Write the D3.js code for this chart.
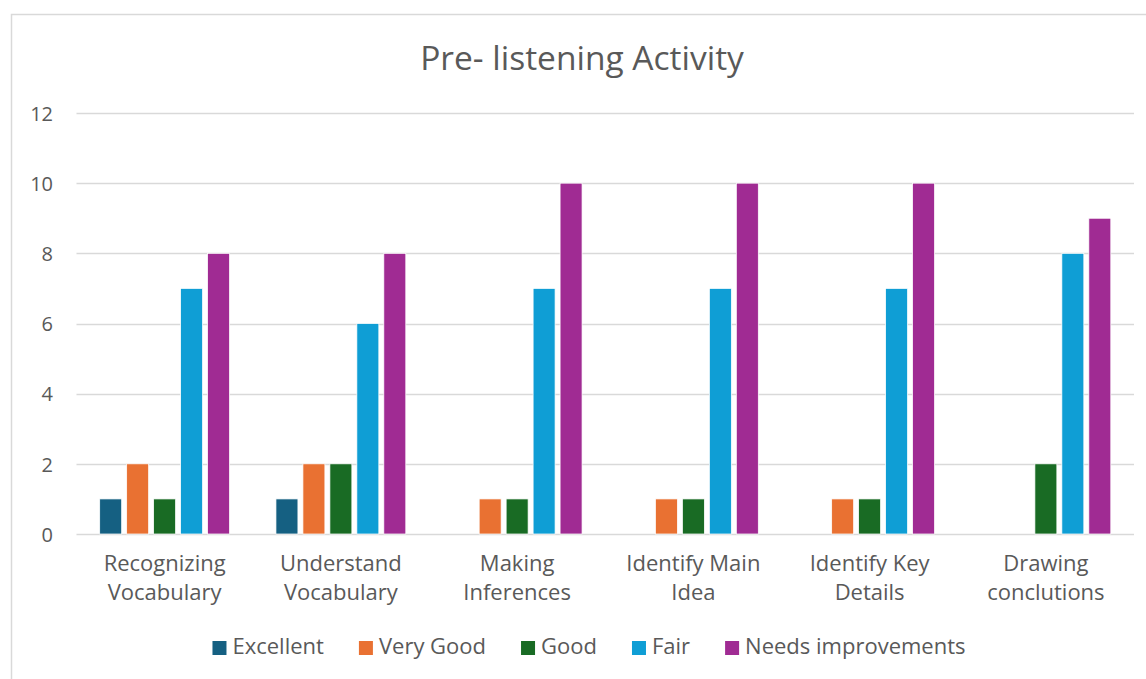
<!DOCTYPE html>
<html>
<head>
<meta charset="utf-8">
<script src="https://cdn.jsdelivr.net/npm/d3@7"></script>
<style>
  html, body { margin: 0; padding: 0; background: #fff; }
  svg { display: block; }
  text { font-family: "Open Sans", "Noto Sans", sans-serif; fill: #595959; }
</style>
</head>
<body>
<svg id="chart" width="1146" height="679"></svg>
<script>
// Skill areas on the x axis
const categories = [
  "Recognizing Vocabulary",
  "Understand Vocabulary",
  "Making Inferences",
  "Identify Main Idea",
  "Identify Key Details",
  "Drawing conclutions"
];
// Rating levels (one bar per level within each skill)
const seriesNames = ["Excellent", "Very Good", "Good", "Fair", "Needs improvements"];
const seriesColors = ["#156082", "#E97132", "#196B24", "#0F9ED5", "#A02B93"];
// Number of students per rating, per skill (order follows categories)
const excellent = [1, 1, 0, 0, 0, 0];
const veryGood = [2, 2, 1, 1, 1, 0];
const good = [1, 2, 1, 1, 1, 2];
const fair = [7, 6, 7, 7, 7, 8];
const needsImprovements = [8, 8, 10, 10, 10, 9];
const yTicks = [0, 2, 4, 6, 8, 10, 12];

const seriesValues = [excellent, veryGood, good, fair, needsImprovements];

const svg = d3.select("#chart");
const W = 1146, H = 679;
const plot = { left: 76.5, right: 1134, top: 113, bottom: 534 };

// chart frame (extends past the right and bottom edges of the canvas)
svg.append("rect")
  .attr("x", 11.5).attr("y", 14.5)
  .attr("width", W + 10).attr("height", H + 10)
  .attr("fill", "#fff").attr("stroke", "#d9d9d9").attr("stroke-width", 1.5);

svg.append("text")
  .attr("x", 582).attr("y", 70)
  .attr("text-anchor", "middle")
  .style("font-size", "33.5px")
  .text("Pre- listening Activity");

const y = d3.scaleLinear().domain([0, 12]).range([plot.bottom, plot.top]);
const x0 = d3.scaleBand().domain(categories).range([plot.left, plot.right]).padding(0);
const x1 = d3.scaleBand().domain(seriesNames).range([0, x0.bandwidth()])
  .paddingInner(0.185).paddingOuter(0.86);

// gridlines
svg.append("g")
  .selectAll("line")
  .data(yTicks)
  .join("line")
  .attr("x1", plot.left).attr("x2", plot.right)
  .attr("y1", d => Math.round(y(d)) + 0.5).attr("y2", d => Math.round(y(d)) + 0.5)
  .attr("stroke", "#d9d9d9").attr("stroke-width", 1.5);

// y axis labels
const yAxis = d3.axisLeft(y).tickValues(yTicks).tickSize(0).tickPadding(0);
const yg = svg.append("g").attr("transform", "translate(53,0)").call(yAxis);
yg.select(".domain").remove();
yg.selectAll("text").style("font-size", "20px").attr("fill", "#595959")
  .attr("text-anchor", "end").attr("dy", "0.36em");

// bars
const groups = svg.append("g")
  .selectAll("g")
  .data(categories)
  .join("g")
  .attr("transform", d => `translate(${x0(d)},0)`);

groups.selectAll("rect")
  .data((c, ci) => seriesNames.map((s, si) => ({ s, si, v: seriesValues[si][ci] })))
  .join("rect")
  .filter(d => d.v > 0)
  .attr("x", d => x1(d.s))
  .attr("y", d => y(d.v))
  .attr("width", x1.bandwidth())
  .attr("height", d => y(0) - y(d.v))
  .attr("fill", d => seriesColors[d.si])
  .attr("stroke", "#fff").attr("stroke-width", 0.75);

// category labels (two lines)
const xg = svg.append("g");
categories.forEach(c => {
  const words = c.split(" ");
  let lines;
  if (words.length === 2) lines = words;
  else lines = [words.slice(0, 2).join(" "), words.slice(2).join(" ")];
  const t = xg.append("text")
    .attr("x", x0(c) + x0.bandwidth() / 2)
    .attr("y", 571)
    .attr("text-anchor", "middle")
    .style("font-size", "22px");
  lines.forEach((l, i) => {
    t.append("tspan").attr("x", x0(c) + x0.bandwidth() / 2).attr("dy", i === 0 ? 0 : 29).text(l);
  });
});

// legend
const legend = svg.append("g");
const items = legend.selectAll("g").data(seriesNames).join("g");
items.append("rect").attr("width", 14).attr("height", 14).attr("y", 641)
  .attr("fill", (d, i) => seriesColors[i]);
items.append("text").attr("x", 20).attr("y", 654).style("font-size", "22px").text(d => d);
const widths = [];
items.each(function () { widths.push(20 + this.querySelector("text").getComputedTextLength()); });
const gap = 35;
const total = d3.sum(widths) + gap * (widths.length - 1);
let cx = 589 - total / 2;
items.attr("transform", (d, i) => {
  const tx = cx;
  cx += widths[i] + gap;
  return `translate(${tx},0)`;
});
</script>
</body>
</html>
